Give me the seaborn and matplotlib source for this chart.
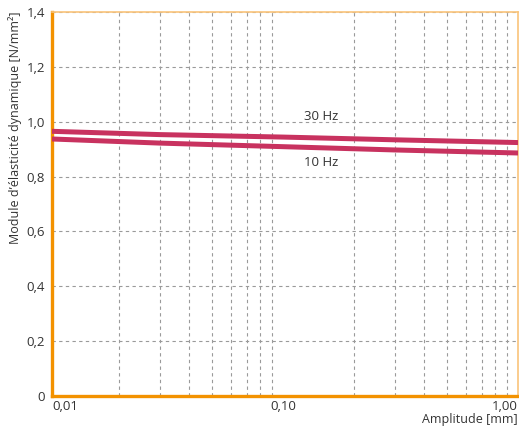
import numpy as np
import pandas as pd
import matplotlib
matplotlib.use('Agg')
import matplotlib.pyplot as plt
import seaborn as sns
from matplotlib.ticker import FixedLocator, NullFormatter

# Data
amplitude = [0.0104, 0.03, 0.1, 0.3, 1.0]
e_30hz = [0.965, 0.953, 0.944, 0.934, 0.924]
e_10hz = [0.937, 0.922, 0.909, 0.897, 0.886]
freq_labels = ['30 Hz', '10 Hz']

y_ticks = [0, 0.2, 0.4, 0.6, 0.8, 1.0, 1.2, 1.4]
y_ticklabels = ['0', '0,2', '0,4', '0,6', '0,8', '1,0', '1,2', '1,4']
x_ticks = [0.0104, 0.1, 1.0]
x_ticklabels = ['0,01', '0,10', '1,00']

df = pd.DataFrame({
    'amplitude': amplitude * 2,
    'E': e_30hz + e_10hz,
    'freq': [freq_labels[0]] * len(amplitude) + [freq_labels[1]] * len(amplitude),
})

sns.set_style('white')
plt.rcParams['font.family'] = ['Open Sans', 'DejaVu Sans']

fig = plt.figure(figsize=(5.19, 4.30), dpi=100)
ax = fig.add_axes([52 / 519, 34 / 430, 466 / 519, 384 / 430])

line_color = '#C8325F'
sns.lineplot(data=df, x='amplitude', y='E', hue='freq',
             palette=[line_color, line_color], linewidth=3.6,
             legend=False, ax=ax, zorder=3)

ax.set_xscale('log')
ax.set_xlim(0.0104, 1.0)
ax.set_ylim(0, 1.4)

# grid: minor decades vertically, 0.2 steps horizontally
minor_x = [m * d for d in (0.01, 0.1) for m in range(2, 10)] + [0.1]
ax.xaxis.set_major_locator(FixedLocator(x_ticks))
ax.xaxis.set_minor_locator(FixedLocator(minor_x))
ax.xaxis.set_minor_formatter(NullFormatter())
ax.set_xticklabels(x_ticklabels)
ax.set_yticks(y_ticks)
ax.set_yticklabels(y_ticklabels)
ax.grid(which='minor', axis='x', color='#9a9a9a', linestyle=(0, (3, 3)), linewidth=0.8)
ax.grid(which='major', axis='y', color='#9a9a9a', linestyle=(0, (3, 3)), linewidth=0.8)

ax.tick_params(which='both', length=0, labelsize=9.5, colors='#333333')
ax.tick_params(axis='x', pad=3)
ax.tick_params(axis='y', pad=5)
xl = ax.get_xticklabels()
xl[0].set_ha('left')
xl[2].set_ha('right')

# spines
for side in ['left', 'bottom']:
    ax.spines[side].set_color('#F39200')
    ax.spines[side].set_linewidth(2.4)
for side in ['top', 'right']:
    ax.spines[side].set_color('#F9C47A')
    ax.spines[side].set_linewidth(1.2)

ax.set_xlabel('Amplitude [mm]', fontsize=9, color='#333333', loc='right', labelpad=0)
ax.set_ylabel('Module d\u2019élasticité dynamique [N/mm²]', fontsize=9,
              color='#333333', loc='top', labelpad=3)

ax.text(0.123, 1.018, freq_labels[0], fontsize=9.5, color='#333333', va='center')
ax.text(0.123, 0.853, freq_labels[1], fontsize=9.5, color='#333333', va='center')

plt.savefig('out.png', dpi=100)
